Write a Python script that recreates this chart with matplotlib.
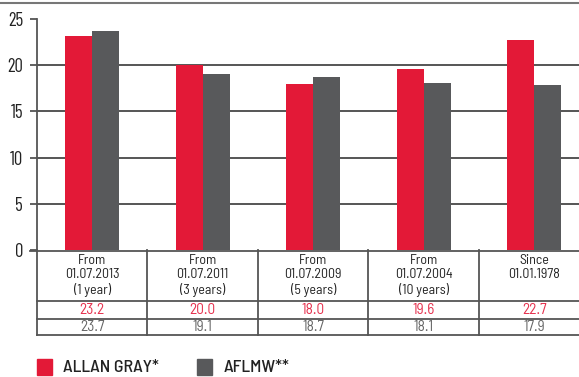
import matplotlib
matplotlib.use('Agg')
import matplotlib.pyplot as plt
import numpy as np

headers = ['From\n01.07.2013\n(1 year)', 'From\n01.07.2011\n(3 years)', 'From\n01.07.2009\n(5 years)',
           'From\n01.07.2004\n(10 years)', 'Since\n01.01.1978']
allan_gray = [23.2, 20.0, 18.0, 19.6, 22.7]
aflmw = [23.7, 19.1, 18.7, 18.1, 17.9]
series_names = ['ALLAN GRAY*', 'AFLMW**']

RED = '#e31937'
GREY = '#58595b'
LINE = '#555555'
plt.rcParams['font.family'] = ['Barlow Condensed', 'DejaVu Sans']
TABLE_FONT = ['Barlow Semi Condensed', 'DejaVu Sans']

W, H = 579, 377
fig = plt.figure(figsize=(W / 100, H / 100), dpi=100)

# main bar axes, pixel layout
ax = fig.add_axes([37 / W, (H - 250) / H, 1 - 37 / W, 231 / H])
x = np.arange(len(headers))
bw = 0.245
ax.bar(x - bw / 2, allan_gray, bw, color=RED, zorder=3)
ax.bar(x + bw / 2, aflmw, bw, color=GREY, zorder=3)
ax.set_xlim(-0.5, 4.405)
ax.set_ylim(0, 25)
ax.set_yticks([0, 5, 10, 15, 20, 25])
ax.set_xticks([])
for s in ['top', 'right', 'bottom']:
    ax.spines[s].set_visible(False)
ax.spines['left'].set_color(LINE)
ax.spines['left'].set_linewidth(1.3)
ax.tick_params(axis='y', length=5, width=1.3, color=LINE, labelsize=13.5, pad=5, labelcolor='#222222')
for v in [5, 10, 15, 20]:
    ax.axhline(v, color=LINE, lw=1.4, zorder=1)

# top rule
fig.add_artist(plt.Line2D([0, 1], [1 - 3 / H, 1 - 3 / H], color='#777777', lw=1.5))

# table below the axes
tx = fig.add_axes([37 / W, (H - 336) / H, 1 - 37 / W, 86 / H])
tx.set_xlim(-0.5, 4.405)
tx.set_ylim(336, 250)
tx.axis('off')
for yy in [250.5, 301, 318.5, 335]:
    tx.plot([-0.5, 4.405], [yy, yy], color=LINE, lw=1.3, clip_on=False)
tx.plot([-0.56, -0.5], [250.5, 250.5], color=LINE, lw=1.3, clip_on=False)
for b in np.arange(len(headers)) - 0.5:
    tx.plot([b, b], [250, 335], color=LINE, lw=1.3, clip_on=False)
for i, h in enumerate(headers):
    tx.text(i, 254, h, ha='center', va='top', fontsize=10, linespacing=1.15, color='#222222', family=TABLE_FONT)
    tx.text(i, 310, '{:.1f}'.format(allan_gray[i]), ha='center', va='center', fontsize=11, color='#e5304d',
            family=TABLE_FONT)
    tx.text(i, 327, '{:.1f}'.format(aflmw[i]), ha='center', va='center', fontsize=11, color='#666666',
            family=TABLE_FONT)

# legend
for sx, tx0, c, name in [(37, 63, RED, series_names[0]), (197, 224, GREY, series_names[1])]:
    fig.add_artist(plt.Rectangle((sx / W, (H - 375) / H), 15 / W, 16 / H, color=c))
    fig.text(tx0 / W, (H - 367) / H, name, fontsize=13, va='center', ha='left',
             family=['Barlow Semi Condensed', 'DejaVu Sans'], fontweight='medium', color='#222222')

fig.savefig('out.png', dpi=100)
